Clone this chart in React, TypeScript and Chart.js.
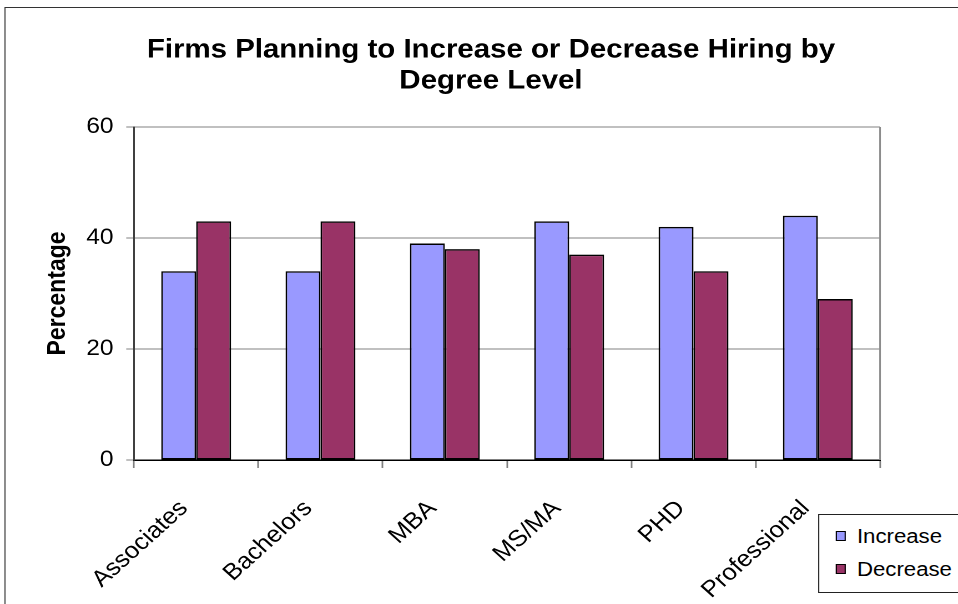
import React, { useEffect, useRef } from "react";
import { Chart, registerables } from "chart.js";

Chart.register(...registerables);

// ---- data ----
const categories = ["Associates", "Bachelors", "MBA", "MS/MA", "PHD", "Professional"];
const increaseValues = [34, 34, 39, 43, 42, 44];
const decreaseValues = [43, 43, 38, 37, 34, 29];
const yTickValues = [0, 20, 40, 60];
const seriesNames = ["Increase", "Decrease"];
const seriesColors = ["#9999FF", "#993366"];
const titleLines = ["Firms Planning to Increase or Decrease Hiring by", "Degree Level"];
const yAxisTitle = "Percentage";

const FONT = "'Liberation Sans', Arial, Helvetica, sans-serif";
const STRETCH = 1.11; // horizontal stretch of the reference rendering
const W = 864;
const H = 604;

const titlePlugin = {
  id: "customTitleAndFrame",
  afterDraw(chart: any) {
    const { ctx, chartArea } = chart;
    ctx.save();
    // right border of plot area
    ctx.strokeStyle = "#8c8c8c";
    ctx.lineWidth = 1.5;
    ctx.beginPath();
    ctx.moveTo(chartArea.right, chartArea.top);
    ctx.lineTo(chartArea.right, chartArea.bottom);
    ctx.stroke();
    // title
    ctx.fillStyle = "#000";
    ctx.font = `bold 26.5px ${FONT}`;
    ctx.textAlign = "center";
    ctx.textBaseline = "alphabetic";
    const cx = 442.3;
    ctx.fillText(titleLines[0], cx, 57.3);
    ctx.fillText(titleLines[1], cx, 88.3);
    ctx.restore();
  },
};

export default function App() {
  const canvasRef = useRef<HTMLCanvasElement | null>(null);

  useEffect(() => {
    if (!canvasRef.current) return;
    const chart = new Chart(canvasRef.current, {
      type: "bar",
      data: {
        labels: categories,
        datasets: [
          {
            label: seriesNames[0],
            data: increaseValues,
            backgroundColor: seriesColors[0],
            borderColor: "#000",
            borderWidth: 1.5,
            borderSkipped: false,
            categoryPercentage: 0.562,
            barPercentage: 1,
          },
          {
            label: seriesNames[1],
            data: decreaseValues,
            backgroundColor: seriesColors[1],
            borderColor: "#000",
            borderWidth: 1.5,
            borderSkipped: false,
            categoryPercentage: 0.562,
            barPercentage: 1,
          },
        ],
      },
      options: {
        responsive: false,
        animation: false,
        devicePixelRatio: 2,
        layout: { padding: { left: 0, top: 127, right: W - 792.8, bottom: 0 } },
        plugins: {
          legend: { display: false },
          title: { display: false },
          tooltip: { enabled: false },
        },
        scales: {
          x: {
            grid: {
              offset: true,
              drawOnChartArea: false,
              drawTicks: true,
              tickLength: 8,
              tickColor: "#808080",
              tickWidth: 1.5,
            },
            border: { color: "#000", width: 1.5 },
            ticks: {
              autoSkip: false,
              maxRotation: 45,
              minRotation: 45,
              padding: 27,
              labelOffset: -11,
              color: "#000",
              font: { family: FONT, size: 23 },
            },
            afterFit(scale: any) {
              scale.height = H - 460;
            },
          },
          y: {
            min: 0,
            max: 60,
            afterBuildTicks(scale: any) {
              scale.ticks = yTickValues.map((v) => ({ value: v }));
            },
            afterFit(scale: any) {
              scale.width = 120.7;
            },
            grid: {
              color: "#808080",
              lineWidth: 1,
              tickLength: 7,
              tickColor: "#808080",
            },
            border: { color: "#404040", width: 1.5 },
            ticks: {
              padding: 11.5,
              color: "#000",
              font: { family: FONT, size: 22 },
            },
            title: {
              display: true,
              text: yAxisTitle,
              color: "#000",
              font: { family: FONT, size: 23, weight: "bold" },
              padding: { top: 38.5, bottom: 0 },
            },
          },
        },
      },
      plugins: [titlePlugin],
    });
    return () => chart.destroy();
  }, []);

  return (
    <div
      style={{
        position: "fixed",
        left: 0,
        top: 0,
        width: 958,
        height: 604,
        overflow: "hidden",
        background: "#fff",
      }}
    >
      <div
        style={{
          position: "absolute",
          left: 0,
          top: 0,
          width: W,
          height: H,
          transform: `scaleX(${STRETCH})`,
          transformOrigin: "0 0",
        }}
      >
        <div
          style={{
            position: "absolute",
            left: 3.6,
            top: 7,
            width: W + 40,
            height: H + 40,
            border: "1.5px solid #333",
            boxSizing: "border-box",
          }}
        />
        <canvas
          ref={canvasRef}
          width={W}
          height={H}
          style={{ position: "absolute", left: 0, top: 0, display: "block" }}
        />
        <div
          style={{
            position: "absolute",
            left: 737,
            top: 514,
            width: 200,
            height: 79,
            border: "1px solid #222",
            boxSizing: "border-box",
            background: "#fff",
            fontFamily: FONT,
            fontSize: 20,
            color: "#000",
          }}
        >
          {seriesNames.map((name, i) => (
            <div
              key={name}
              style={{
                position: "absolute",
                left: 15,
                top: 9 + i * 33,
                height: 24,
                display: "flex",
                alignItems: "center",
                whiteSpace: "nowrap",
              }}
            >
              <span
                style={{
                  display: "inline-block",
                  width: 9,
                  height: 10,
                  boxSizing: "border-box",
                  border: "1px solid #000",
                  background: seriesColors[i],
                  marginRight: 10,
                }}
              />
              <span>{name}</span>
            </div>
          ))}
        </div>
      </div>
    </div>
  );
}
